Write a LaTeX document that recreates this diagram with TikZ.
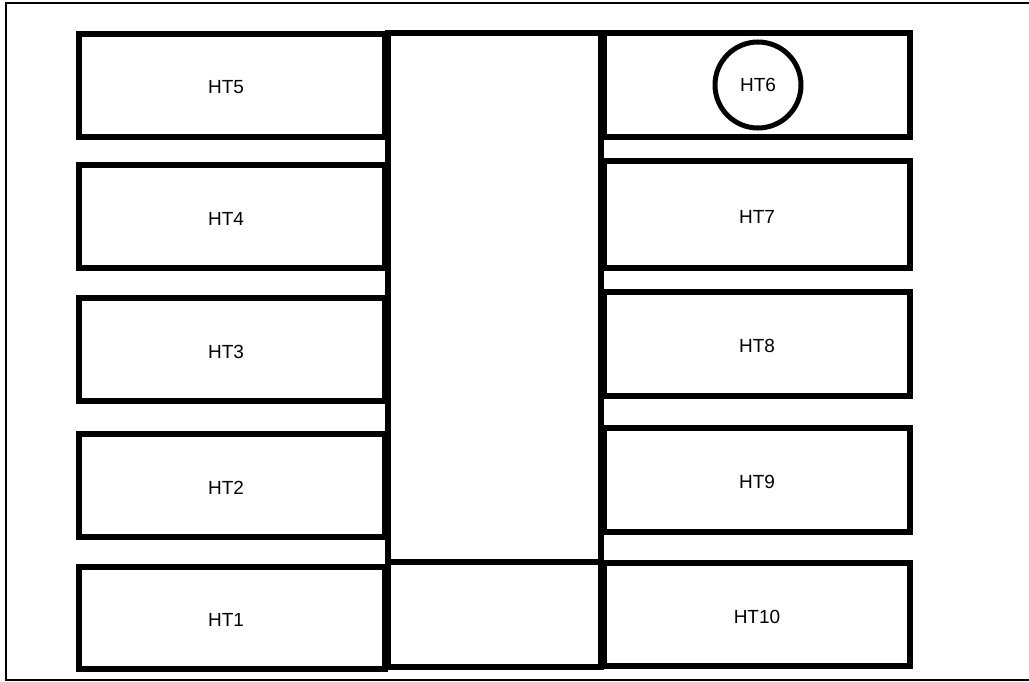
\documentclass[tikz,border=0pt]{standalone}
\usepackage{fontspec}
\setmainfont{Liberation Sans}
\begin{document}
\begin{tikzpicture}[x=1pt,y=-1pt,
  box/.style={draw=black,line width=5.5pt,rectangle,inner sep=0pt,outer sep=0pt},
  col/.style={draw=black,line width=5.5pt,rectangle,inner sep=0pt,outer sep=0pt},
  lbl/.style={font=\fontsize{19}{22}\selectfont,inner sep=0pt},
  frame/.style={draw=black,line width=1.2pt}]
\useasboundingbox (0,0) rectangle (1029,682);
% outer frame
\coordinate (ftr) at (1029,3);
\coordinate (ftl) at (6,3);
\coordinate (fbl) at (6,680);
\coordinate (fbr) at (1029,680);
\draw[frame] (ftr) -- (ftl) -- (fbl) -- (fbr);
% left boxes (x 79 .. 385)
\foreach \n/\ya/\yb in {5/34/137,4/165/268,3/298/401,2/434/537,1/567/669}{
  \node[box,minimum width=306pt,minimum height={(\yb-\ya)*1pt}] (b\n) at (232,{(\ya+\yb)/2}) {};
  \node[lbl] (t\n) at (226,{(\ya+\yb)/2+2}) {HT\n};
}
% right boxes (x 604 .. 910)
\foreach \n/\ya/\yb in {6/33/137,7/161/268,8/292/396,9/428/532,10/563/666}{
  \node[box,minimum width=306pt,minimum height={(\yb-\ya)*1pt}] (b\n) at (757,{(\ya+\yb)/2}) {};
}
\foreach \n/\ya/\yb in {7/161/268,8/292/396,9/428/532,10/563/666}{
  \node[lbl] (t\n) at (757,{(\ya+\yb)/2+2}) {HT\n};
}
% central column (x 388 .. 601)
\node[col,minimum width=213pt,minimum height=529pt] (c1) at (494.5,297.5) {};
\node[col,minimum width=213pt,minimum height=105pt] (c2) at (494.5,614.5) {};
% HT6 circle
\node[draw=black,line width=5pt,circle,minimum size=86pt,inner sep=0pt,font=\fontsize{19}{22}\selectfont] (t6) at (758,85) {HT6};
\end{tikzpicture}
\end{document}
